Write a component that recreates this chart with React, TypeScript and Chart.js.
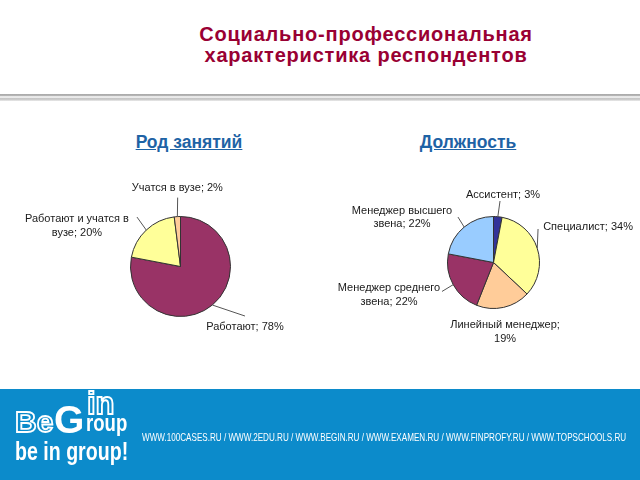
import React, { useEffect, useRef } from "react";
import { Chart, registerables } from "chart.js";

Chart.register(...registerables);

// ---- Data ----
const occupationLabels = ["Работают", "Работают и учатся в вузе", "Учатся в вузе"];
const occupationValues = [78, 20, 2];
const occupationColors = ["#993366", "#FFFF99", "#FFCC99"];

const positionLabels = [
  "Ассистент",
  "Специалист",
  "Линейный менеджер",
  "Менеджер среднего звена",
  "Менеджер высшего звена",
];
const positionValues = [3, 34, 19, 22, 22];
const positionColors = ["#333399", "#FFFF99", "#FFCC99", "#993366", "#99CCFF"];

const titleLines = ["Социально-профессиональная", "характеристика респондентов"];
const occupationTitle = "Род занятий";
const positionTitle = "Должность";
const footerUrls = [
  "WWW.100CASES.RU",
  "WWW.2EDU.RU",
  "WWW.BEGIN.RU",
  "WWW.EXAMEN.RU",
  "WWW.FINPROFY.RU",
  "WWW.TOPSCHOOLS.RU",
];

// ---- Label layout (offsets from each slice's outer edge midpoint) ----
type LabelLayout = { dx: number; dy: number; lx?: number; ly?: number; maxWidth: number };

const occupationLabelLayout: LabelLayout[] = [
  { dx: 32.6, dy: 22, lx: 32.6, ly: 11, maxWidth: 1000 },
  { dx: -69.3, dy: -4, lx: -9.3, ly: -13, maxWidth: 125 },
  { dx: 0, dy: -28.6, lx: 0.3, ly: -19, maxWidth: 1000 },
];

const positionLabelLayout: LabelLayout[] = [
  { dx: 5.2, dy: -21.7, lx: 2.2, ly: -15.7, maxWidth: 1000 },
  { dx: 50.8, dy: -21.3, lx: 0.8, ly: -19.3, maxWidth: 1000 },
  { dx: 1.5, dy: 24.6, maxWidth: 115 },
  { dx: -64.2, dy: 10.3, lx: -11.2, ly: 6.8, maxWidth: 108 },
  { dx: -62.2, dy: -9.6, lx: -6.2, ly: -10, maxWidth: 108 },
];

const LABEL_FONT = "11px 'Liberation Sans', Arial, sans-serif";

function wrapText(ctx: CanvasRenderingContext2D, text: string, maxWidth: number): string[] {
  const words = text.split(" ");
  const lines: string[] = [];
  let cur = "";
  for (const w of words) {
    const t = cur ? cur + " " + w : w;
    if (cur && ctx.measureText(t).width > maxWidth) {
      lines.push(cur);
      cur = w;
    } else {
      cur = t;
    }
  }
  if (cur) lines.push(cur);
  return lines;
}

function makeLabelPlugin(layout: LabelLayout[]) {
  return {
    id: "pieLabels",
    afterDatasetsDraw(chart: any) {
      const ctx: CanvasRenderingContext2D = chart.ctx;
      const meta = chart.getDatasetMeta(0);
      const labels = chart.data.labels as string[];
      const values = chart.data.datasets[0].data as number[];
      ctx.save();
      ctx.font = LABEL_FONT;
      ctx.fillStyle = "#1a1a1a";
      ctx.strokeStyle = "#555555";
      ctx.lineWidth = 1;
      ctx.textAlign = "center";
      ctx.textBaseline = "middle";
      meta.data.forEach((arc: any, i: number) => {
        const p = arc.getProps(["x", "y", "startAngle", "endAngle", "outerRadius"], true);
        const mid = (p.startAngle + p.endAngle) / 2;
        const ex = p.x + Math.cos(mid) * p.outerRadius;
        const ey = p.y + Math.sin(mid) * p.outerRadius;
        const L = layout[i];
        if (L.lx !== undefined && L.ly !== undefined) {
          ctx.beginPath();
          ctx.moveTo(ex, ey);
          ctx.lineTo(ex + L.lx, ey + L.ly);
          ctx.stroke();
        }
        const lines = wrapText(ctx, `${labels[i]}; ${values[i]}%`, L.maxWidth);
        const lh = 13.5;
        const cy = ey + L.dy - ((lines.length - 1) * lh) / 2;
        lines.forEach((ln, k) => ctx.fillText(ln, ex + L.dx, cy + k * lh));
      });
      ctx.restore();
    },
  };
}

type PieProps = {
  labels: string[];
  values: number[];
  colors: string[];
  layout: LabelLayout[];
  padding: { left: number; right: number; top: number; bottom: number };
  style: React.CSSProperties;
  width: number;
  height: number;
};

function Pie({ labels, values, colors, layout, padding, style, width, height }: PieProps) {
  const ref = useRef<HTMLCanvasElement | null>(null);
  useEffect(() => {
    if (!ref.current) return;
    const chart = new Chart(ref.current, {
      type: "pie",
      data: {
        labels,
        datasets: [
          {
            data: values,
            backgroundColor: colors,
            borderColor: "#333333",
            borderWidth: 1,
          },
        ],
      },
      options: {
        responsive: false,
        animation: false,
        layout: { padding },
        plugins: {
          legend: { display: false },
          tooltip: { enabled: false },
        },
      },
      plugins: [makeLabelPlugin(layout)],
    });
    return () => chart.destroy();
  }, []);
  return <canvas ref={ref} width={width} height={height} style={{ position: "absolute", width, height, ...style }} />;
}

function FitText({ text, width, style }: { text: string; width: number; style: React.CSSProperties }) {
  const ref = useRef<HTMLSpanElement | null>(null);
  useEffect(() => {
    const el = ref.current;
    if (!el) return;
    const w = el.offsetWidth;
    if (w > 0) el.style.transform = `scaleX(${width / w})`;
  }, []);
  return (
    <span
      ref={ref}
      style={{
        position: "absolute",
        whiteSpace: "nowrap",
        transformOrigin: "left center",
        display: "inline-block",
        ...style,
      }}
    >
      {text}
    </span>
  );
}

export default function App() {
  const outline: React.CSSProperties = {
    position: "absolute",
    color: "transparent",
    WebkitTextStroke: "1.8px #ffffff",
    fontFamily: "'Liberation Sans', Arial, sans-serif",
    fontWeight: 700,
    lineHeight: 1,
  } as React.CSSProperties;
  const filled: React.CSSProperties = {
    position: "absolute",
    color: "#ffffff",
    fontFamily: "'Liberation Sans', Arial, sans-serif",
    fontWeight: 700,
    lineHeight: 1,
  };
  const subtitle: React.CSSProperties = {
    position: "absolute",
    top: 132,
    width: 200,
    textAlign: "center",
    color: "#1E63A5",
    fontWeight: 700,
    fontSize: 17.5,
    lineHeight: "20px",
    textDecoration: "underline",
  };
  return (
    <div
      style={{
        position: "fixed",
        left: 0,
        top: 0,
        width: 640,
        height: 480,
        background: "#ffffff",
        overflow: "hidden",
        fontFamily: "'Liberation Sans', Arial, sans-serif",
      }}
    >
      <div
        style={{
          position: "absolute",
          left: 116,
          top: 24,
          width: 500,
          textAlign: "center",
          color: "#990033",
          fontSize: 20,
          fontWeight: 700,
          letterSpacing: 0.8,
          lineHeight: "21px",
        }}
      >
        {titleLines.map((t) => (
          <div key={t}>{t}</div>
        ))}
      </div>
      <div
        style={{
          position: "absolute",
          left: 0,
          top: 94,
          width: 640,
          height: 7,
          background:
            "linear-gradient(to bottom, #a9a9a9 0px, #b8b8b8 2px, #e6e6e6 2px, #ececec 4px, #c4c4c4 4px, #cfcfcf 6px, #f2f2f2 7px)",
        }}
      />
      <div style={{ ...subtitle, left: 89 }}>{occupationTitle}</div>
      <div style={{ ...subtitle, left: 368 }}>{positionTitle}</div>

      <Pie
        labels={occupationLabels}
        values={occupationValues}
        colors={occupationColors}
        layout={occupationLabelLayout}
        padding={{ left: 130, right: 89, top: 56, bottom: 43 }}
        width={320}
        height={200}
        style={{ left: 0, top: 160 }}
      />
      <Pie
        labels={positionLabels}
        values={positionValues}
        colors={positionColors}
        layout={positionLabelLayout}
        padding={{ left: 127, right: 100, top: 56, bottom: 51 }}
        width={320}
        height={200}
        style={{ left: 320, top: 160 }}
      />

      <div
        style={{
          position: "absolute",
          left: 0,
          top: 389,
          width: 640,
          height: 91,
          background: "#0C8BCB",
        }}
      >
        <div style={{ position: "absolute", left: 0, top: -389, width: 640, height: 480 }}>
          <span style={{ ...outline, left: 15, top: 407, fontSize: 30 }}>Be</span>
          <span style={{ ...filled, left: 54, top: 400, fontSize: 39 }}>G</span>
          <span style={{ ...outline, left: 87, top: 388, fontSize: 31 }}>in</span>
          <FitText
            text="roup"
            width={41}
            style={{ ...filled, left: 86, top: 411, fontSize: 24 }}
          />
          <FitText
            text="be in group!"
            width={113}
            style={{ ...filled, left: 15, top: 438, fontSize: 26 }}
          />
          <FitText
            text={footerUrls.join(" / ")}
            width={484}
            style={{
              left: 142,
              top: 430,
              color: "#ffffff",
              font: "11px 'Liberation Sans', Arial, sans-serif",
              lineHeight: "14px",
            }}
          />
        </div>
      </div>
    </div>
  );
}
